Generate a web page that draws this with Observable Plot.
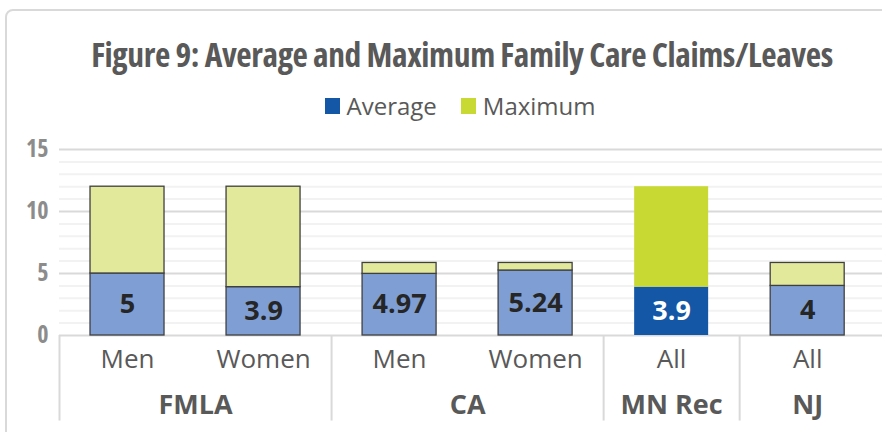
<!DOCTYPE html>
<html>
<head>
<meta charset="utf-8">
<script src="https://cdn.jsdelivr.net/npm/d3@7"></script>
<script src="https://cdn.jsdelivr.net/npm/@observablehq/plot@0.6"></script>
<style>
  html, body { margin: 0; padding: 0; background: #fff; overflow: hidden; width: 882px; height: 432px; }
  #frame { position: absolute; left: 5px; top: 9px; width: 914px; height: 460px; border: 2px solid #d9d9d9; border-radius: 8px; box-sizing: border-box; }
  #title { position: absolute; left: 0; top: 37px; width: 924px; text-align: center; font-family: "Open Sans", sans-serif; font-stretch: 75%; font-weight: 700; font-size: 33.5px; letter-spacing: -0.4px; line-height: 34px; color: #595959; white-space: nowrap; }
  #legend { position: absolute; left: 0; top: 92px; width: 920px; display: flex; justify-content: center; align-items: center; font-family: "Open Sans", sans-serif; font-size: 24px; line-height: 28px; color: #595959; }
  #legend span.item { display: inline-flex; align-items: center; margin: 0 12px; }
  #legend span.sw { display: inline-block; width: 15px; height: 16px; margin-right: 7px; }
  #chart { position: absolute; left: 0; top: 130px; }
  #chart svg { overflow: visible; }
</style>
</head>
<body>
<div id="frame"></div>
<div id="title">Figure 9: Average and Maximum Family Care Claims/Leaves</div>
<div id="legend"></div>
<div id="chart"></div>
<script>
// ---- data ----
const groups = ["FMLA", "FMLA", "CA", "CA", "MN Rec", "NJ"];
const subgroups = ["Men", "Women", "Men", "Women", "All", "All"];
const average = [5, 3.9, 4.97, 5.24, 3.9, 4];
const maximum = [12, 12, 5.85, 5.85, 12, 5.85];
const averageLabels = ["5", "3.9", "4.97", "5.24", "3.9", "4"];
const seriesNames = ["Average", "Maximum"];
const yTicks = [0, 5, 10, 15];
const highlightGroup = "MN Rec";

// ---- styles ----
const colAvg = "#7f9fd4", colAvgHi = "#1357a6";
const colMax = "#e2e99a", colMaxHi = "#c9d933";

const rows = groups.map((g, i) => ({
  i, group: g, sub: subgroups[i], avg: average[i], max: maximum[i],
  label: averageLabels[i], hl: g === highlightGroup
}));

// group spans
const groupSpans = [];
rows.forEach(r => {
  const last = groupSpans[groupSpans.length - 1];
  if (last && last.group === r.group) last.end = r.i;
  else groupSpans.push({group: r.group, start: r.i, end: r.i});
});
const separators = groupSpans.map(s => s.start - 0.5);

// legend
document.getElementById("legend").innerHTML = seriesNames.map((n, k) =>
  `<span class="item"><span class="sw" style="background:${k === 0 ? colAvgHi : colMaxHi}"></span>${n}</span>`).join("");

const hw = 0.272;
const minor = d3.range(0, 16).filter(v => v % 5 !== 0);

const chart = Plot.plot({
  width: 882,
  height: 302,
  marginTop: 19,
  marginBottom: 97,
  marginLeft: 59,
  marginRight: 0,
  style: {fontFamily: "'Open Sans', sans-serif", background: "transparent"},
  x: {type: "linear", domain: [-0.5, 5.55], axis: null},
  y: {domain: [0, 15], axis: null},
  marks: [
    Plot.ruleY(minor, {stroke: "#f2f2f2", strokeWidth: 2}),
    Plot.ruleY(yTicks, {stroke: "#d9d9d9", strokeWidth: 2}),
    Plot.rect(rows, {
      x1: d => d.i - hw, x2: d => d.i + hw, y1: 0, y2: "avg",
      fill: d => d.hl ? colAvgHi : colAvg,
      stroke: d => d.hl ? "none" : "#404040", strokeWidth: 1.3
    }),
    Plot.rect(rows, {
      x1: d => d.i - hw, x2: d => d.i + hw, y1: "avg", y2: "max",
      fill: d => d.hl ? colMaxHi : colMax,
      stroke: d => d.hl ? "none" : "#404040", strokeWidth: 1.3
    }),
    Plot.text(rows, {
      x: "i", y: d => d.avg / 2, text: "label",
      fill: d => d.hl ? "#ffffff" : "#262626",
      fontSize: 27, fontWeight: 700
    }),
    Plot.text(yTicks, {
      x: -0.5, y: d => d, text: d => String(d), dx: -11, textAnchor: "end",
      fill: "#8c8c8c", fontSize: 24, fontWeight: 700
    }),
    Plot.text(rows, {
      x: "i", y: 0, dy: 24, text: "sub", fill: "#595959", fontSize: 26
    }),
    Plot.text(groupSpans, {
      x: d => (d.start + d.end) / 2, y: 0, dy: 70, text: "group",
      fill: "#595959", fontSize: 27, fontWeight: 700
    }),
    Plot.ruleX(separators, {x: d => d, y1: 0, y2: -6.9, stroke: "#d9d9d9", strokeWidth: 2})
  ]
});

// narrower glyphs for tick labels and group labels
const textGroups = d3.select(chart).selectAll("g[aria-label='text']").nodes();
d3.select(textGroups[1]).attr("style", "font-stretch:85%");
d3.select(textGroups[3]).attr("style", "font-stretch:90%");
document.getElementById("chart").appendChild(chart);
</script>
</body>
</html>
